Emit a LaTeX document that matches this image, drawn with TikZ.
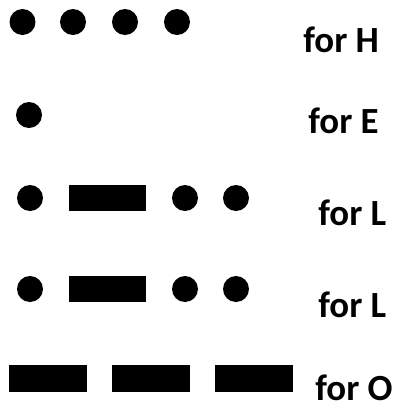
\documentclass[tikz,border=0pt]{standalone}
\usepackage{fontspec}
\setmainfont{Carlito}
\usepackage{tikz}
\usetikzlibrary{positioning}

\begin{document}
\begin{tikzpicture}[x=0.02cm,y=-0.02cm,
 dotmark/.style={circle,fill=black,inner sep=0pt,minimum size=0.52cm},
 dashmark/.style={rectangle,fill=black,inner sep=0pt,minimum width=1.56cm,minimum height=0.53cm},
 lbl/.style={anchor=base west,inner sep=0pt,font=\fontsize{21}{25}\selectfont\bfseries}]
\useasboundingbox (0,0) rectangle (398,410);
% H
\foreach \x/\n in {22.5/a,73/b,125/c,177/d}
  \node[dotmark] (h\n) at (\x,22) {};
\node[lbl] (forH) at (303,52) {for H};
% E
\node[dotmark] (ea) at (29,115) {};
\node[lbl] (forE) at (308,133) {for E};
% L
\node[dotmark] (la) at (30,198) {};
\node[dashmark] (lb) at (107.5,198) {};
\node[dotmark] (lc) at (185,198) {};
\node[dotmark] (ld) at (236,198) {};
\node[lbl] (forL) at (318,225) {for L};
% L again
\node[dotmark] (ma) at (30,289) {};
\node[dashmark] (mb) at (107.5,289) {};
\node[dotmark] (mc) at (185,289) {};
\node[dotmark] (md) at (236,289) {};
\node[lbl] (forLL) at (318,317) {for L};
% O
\node[dashmark] (oa) at (48,378.5) {};
\node[dashmark] (ob) at (151,378.5) {};
\node[dashmark] (oc) at (254,378.5) {};
\node[lbl] (forO) at (315,400) {for O};
\end{tikzpicture}
\end{document}
